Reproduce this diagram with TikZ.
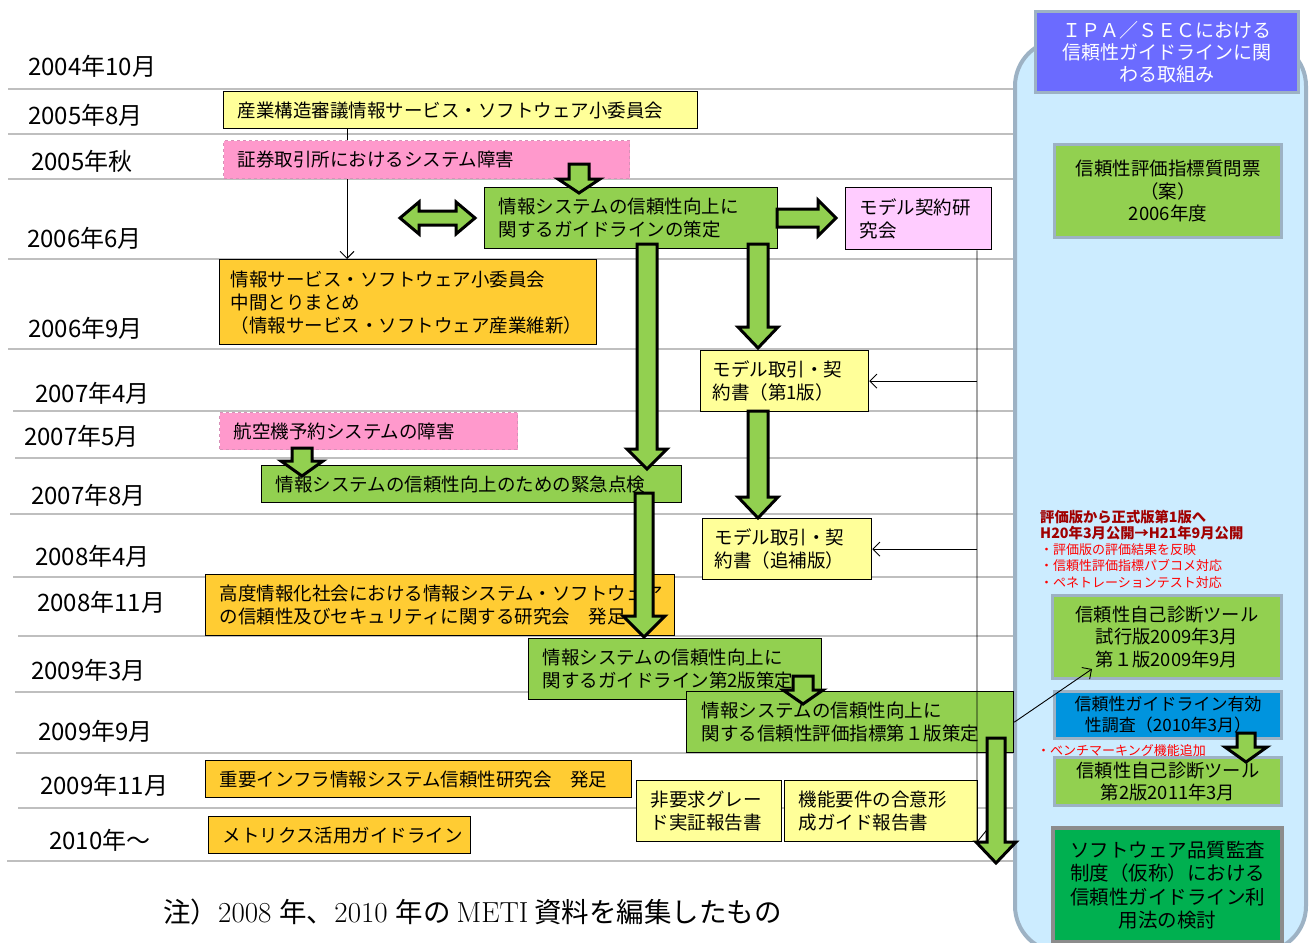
\documentclass[tikz,border=0pt]{standalone}
\usepackage{fontspec}
\newfontfamily\jp{Noto Sans CJK JP}
\usetikzlibrary{arrows.meta,calc}
\definecolor{lgray}{HTML}{BFBFBF}
\definecolor{yel}{HTML}{FFFF99}
\definecolor{pnk}{HTML}{FF99CC}
\definecolor{pnkb}{HTML}{D890B8}
\definecolor{lpk}{HTML}{FFCCFF}
\definecolor{org}{HTML}{FFCC33}
\definecolor{agr}{HTML}{92D050}
\definecolor{pfill}{HTML}{CCECFF}
\definecolor{pbord}{HTML}{9DB2C4}
\definecolor{ttlc}{HTML}{6B6BFF}
\definecolor{blu}{HTML}{0094DE}
\definecolor{dgr}{HTML}{00B050}
\definecolor{gbord}{HTML}{8C8C8C}
\definecolor{dred}{HTML}{A00000}
\definecolor{rred}{HTML}{FF0000}
\newcommand\BlkDown[6]{%
  \filldraw[blk] (#1-#5,#2) -- (#1+#5,#2) -- (#1+#5,#3) -- (#1+#6,#3) -- (#1,#4) -- (#1-#6,#3) -- (#1-#5,#3) -- cycle;}
\newcommand\fnjp[1]{{\jp\fontsize{27.5}{29}\selectfont #1}}
\begin{document}
\begin{tikzpicture}[x=1pt,y=-1pt,
  gl/.style={draw=lgray,line width=2pt},
  bx/.style={draw=black,line width=1.3pt,anchor=north west,inner xsep=14pt,inner ysep=0pt,align=left,font=\jp\fontsize{18.5}{23}\selectfont},
  ybox/.style={bx,fill=yel},
  pbox/.style={bx,fill=pnk,draw=pnkb,dashed,line width=1pt},
  obox/.style={bx,fill=org},
  gbox/.style={bx,fill=agr},
  dl/.style={anchor=west,font=\jp\fontsize{24}{24}\selectfont,inner sep=0pt},
  blk/.style={fill=agr,draw=black,line width=3pt,line join=miter},
  conn/.style={draw=black,line width=0.9pt,-{Straight Barb[length=7pt,width=14pt]}},
  plain/.style={draw=black,line width=0.9pt},
  ibox/.style={draw=pbord,line width=3pt,anchor=north west,inner sep=0pt,align=center},
  rtxt/.style={anchor=west,inner sep=0pt,align=left,font=\jp\fontsize{13}{16.3}\selectfont}
]
\useasboundingbox (0,0) rectangle (1313,942);
% timeline rules
\foreach \lx/\ly in {8/89,8/134,8/179,8/259,8/349,13/411,15/458,10/514,13/577,18/636,15/692,16/753,18/808,7/861}
  \draw[gl] (\lx,\ly) -- (1015,\ly);
% date labels
\node[dl] (d1) at (28,66) {2004年10月};
\node[dl] (d2) at (28,115) {2005年8月};
\node[dl] (d3) at (31,161) {2005年秋};
\node[dl] (d4) at (27,238) {2006年6月};
\node[dl] (d5) at (28,328) {2006年9月};
\node[dl] (d6) at (35,393) {2007年4月};
\node[dl] (d7) at (24,436) {2007年5月};
\node[dl] (d8) at (31,495) {2007年8月};
\node[dl] (d9) at (35,556) {2008年4月};
\node[dl] (d10) at (37,602) {2008年11月};
\node[dl] (d11) at (31,670) {2009年3月};
\node[dl] (d12) at (38,731) {2009年9月};
\node[dl] (d13) at (40,785) {2009年11月};
\node[dl] (d14) at (49,840) {2010年〜};
% right panel
\draw[line width=4pt,draw=pbord,fill=pfill,rounded corners=46pt] (1015,40) rectangle (1306,952);
% coordinates for thin connectors
\coordinate (cx1) at (347,0);
\coordinate (vl) at (977,0);
% boxes
\node[ybox,text width=446pt,minimum height=37pt] (yb1) at (223,91) {産業構造審議情報サービス・ソフトウェア小委員会};
\node[obox,text width=355pt,inner xsep=11pt,minimum height=85pt] (or1) at (219,259) {情報サービス・ソフトウェア小委員会\\中間とりまとめ\\（情報サービス・ソフトウェア産業維新）};
\draw[conn] (yb1.south -| cx1) -- (or1.north -| cx1);
\node[pbox,text width=378pt,minimum height=38pt] (pk1) at (223,140) {証券取引所におけるシステム障害};
\node[gbox,text width=265pt,minimum height=61pt] (gr1) at (484,187) {情報システムの信頼性向上に\\関するガイドラインの策定};
\node[bx,fill=lpk,text width=118pt,minimum height=62pt] (lp1) at (845,187) {モデル契約研\\究会};
\node[ybox,inner xsep=12pt,text width=144pt,minimum height=61pt] (yb2) at (700,350) {モデル取引・契\\約書（第1版）};
\node[pbox,text width=270pt,minimum height=37pt] (pk2) at (219,412) {航空機予約システムの障害};
\node[gbox,text width=392pt,minimum height=37pt] (gr2) at (261,465) {情報システムの信頼性向上のための緊急点検};
\node[ybox,inner xsep=12pt,text width=145pt,minimum height=61pt] (yb3) at (702,518) {モデル取引・契\\約書（追補版）};
\node[obox,text width=441pt,minimum height=61pt] (or2) at (205,574) {高度情報化社会における情報システム・ソフトウェア\\の信頼性及びセキュリティに関する研究会　発足};
\node[gbox,text width=265pt,minimum height=61pt] (gr3) at (528,638) {情報システムの信頼性向上に\\関するガイドライン第2版策定};
\node[gbox,inner xsep=15pt,text width=297pt,minimum height=61pt] (gr4) at (686,691) {情報システムの信頼性向上に\\関する信頼性評価指標第１版策定};
\node[obox,text width=398pt,minimum height=37pt] (or3) at (205,760) {重要インフラ情報システム信頼性研究会　発足};
\node[obox,text width=234pt,minimum height=37pt] (or4) at (208,816) {メトリクス活用ガイドライン};
\node[ybox,text width=117pt,minimum height=61pt] (yb4) at (636,780) {非要求グレー\\ド実証報告書};
\node[ybox,text width=165pt,minimum height=61pt] (yb5) at (784,780) {機能要件の合意形\\成ガイド報告書};
% thin connectors on the right
\draw[plain] (lp1.south -| vl) -- (977,842) -- (990,826);
\draw[conn] (yb2.east -| vl) -- (yb2.east);
\draw[conn] (yb3.east -| vl) -- (yb3.east);
% panel contents
\node[ibox,fill=ttlc,text=white,minimum width=263pt,minimum height=81pt,font=\jp\fontsize{19}{22}\selectfont] (ttl) at (1034,10) {ＩＰＡ／ＳＥＣにおける\\信頼性ガイドラインに関\\わる取組み};
\node[ibox,fill=agr,minimum width=227pt,minimum height=93pt,font=\jp\fontsize{18.5}{22.5}\selectfont] (q1) at (1053,143) {信頼性評価指標質問票\\（案）\\2006年度};
\node[rtxt,text=dred,font=\jp\bfseries\fontsize{14.3}{16.3}\selectfont] (r1) at (1040,525) {評価版から正式版第1版へ\\H20年3月公開→H21年9月公開};
\node[rtxt,text=rred] (r2) at (1040,566) {・評価版の評価結果を反映\\・信頼性評価指標パブコメ対応\\・ペネトレーションテスト対応};
\node[ibox,fill=agr,minimum width=229pt,minimum height=83pt,font=\jp\fontsize{18.3}{22.5}\selectfont] (t1) at (1051,594) {信頼性自己診断ツール\\試行版2009年3月\\第１版2009年9月};
\node[ibox,fill=blu,minimum width=227pt,minimum height=47pt,font=\jp\fontsize{17}{21}\selectfont] (bl) at (1053,690) {信頼性ガイドライン有効\\性調査（2010年3月）};
\node[rtxt,text=rred] (r3) at (1037,751) {・ベンチマーキング機能追加};
\node[ibox,fill=agr,minimum width=227pt,minimum height=48pt,font=\jp\fontsize{18.3}{21.5}\selectfont] (t2) at (1053,756) {信頼性自己診断ツール\\第2版2011年3月};
\node[ibox,fill=dgr,draw=gbord,line width=4pt,minimum width=229pt,minimum height=114pt,font=\jp\fontsize{19.5}{23.5}\selectfont] (sq) at (1051,826) {ソフトウェア品質監査\\制度（仮称）における\\信頼性ガイドライン利\\用法の検討};
\coordinate (t1pt) at (1092,669);
\draw[conn] (gr4.east) -- (t1pt);
% block arrows
\BlkDown{579}{164}{179}{193}{10}{21}
\filldraw[blk] (400,218) -- (419,202) -- (419,211) -- (456,211) -- (456,202) -- (475,218) -- (456,234) -- (456,225) -- (419,225) -- (419,234) -- cycle;
\filldraw[blk] (777,209) -- (818,209) -- (818,200) -- (836,218) -- (818,236) -- (818,227) -- (777,227) -- cycle;
\BlkDown{647}{244}{449}{469}{10}{20}
\BlkDown{758}{244}{327}{348}{10}{20}
\BlkDown{758}{411}{497}{518}{10}{20}
\BlkDown{302}{448}{461}{476}{10}{21}
\BlkDown{644}{493}{616}{637}{9}{21}
\BlkDown{803}{676}{690}{704}{10}{20}
\BlkDown{996}{738}{842}{863}{9}{20}
\BlkDown{1246}{733}{747}{762}{9}{21}
% footnote
\node[anchor=west,inner sep=0pt,font=\fontsize{29}{29}\selectfont] (fn) at (163,912) {\fnjp{注）}2008\hspace{8pt}\fnjp{年、}2010\hspace{8pt}\fnjp{年の}\hspace{6pt}METI\hspace{6pt}\fnjp{資料を編集したもの}};
\end{tikzpicture}
\end{document}
